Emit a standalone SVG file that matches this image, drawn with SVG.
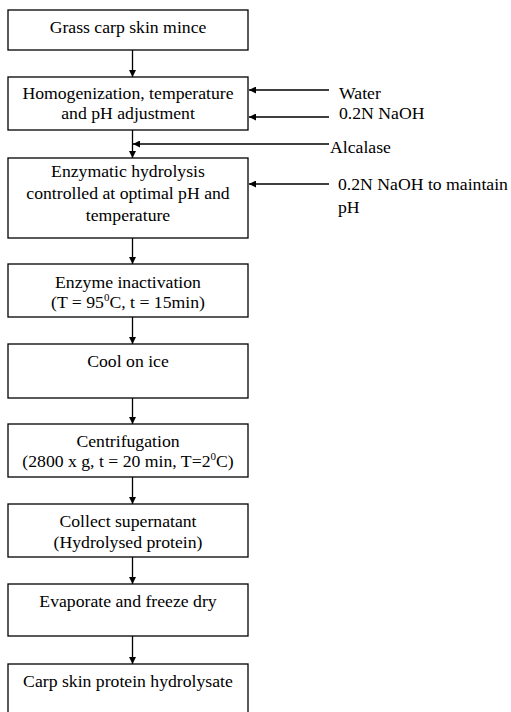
<svg xmlns="http://www.w3.org/2000/svg" width="511" height="712" viewBox="0 0 511 712">
<defs>
<marker id="ah" viewBox="0 0 10 10" refX="10" refY="5" markerWidth="7" markerHeight="7" markerUnits="userSpaceOnUse" orient="auto">
<path d="M0,0 L10,5 L0,10 Z" fill="#000"/>
</marker>
<style>
rect.box{fill:#fff;stroke:#000;stroke-width:1.3}
text{font-family:"Liberation Serif","Times New Roman","DejaVu Serif",serif;font-size:17.7px;fill:#000}
text.c{text-anchor:middle}
.conn line{stroke:#000;stroke-width:1.3;marker-end:url(#ah)}
.sup{font-size:11px}
</style>
</defs>
<rect width="511" height="712" fill="#fff"/>
<g id="n1"><rect class="box" x="8" y="10" width="240" height="40"/><text class="c" x="128" y="33">Grass carp skin mince</text></g>
<g id="n2"><rect class="box" x="8" y="77" width="240" height="53"/><text class="c" x="128" y="99">Homogenization, temperature</text><text class="c" x="128" y="119">and pH adjustment</text></g>
<g id="n3"><rect class="box" x="8" y="158" width="240" height="80"/><text class="c" x="128" y="177">Enzymatic hydrolysis</text><text class="c" x="128" y="199">controlled at optimal pH and</text><text class="c" x="128" y="221">temperature</text></g>
<g id="n4"><rect class="box" x="8" y="264" width="240" height="53"/><text class="c" x="128" y="288">Enzyme inactivation</text><text class="c" x="128" y="308">(T = 95<tspan class="sup" dy="-7">0</tspan><tspan dy="7">C, t = 15min)</tspan></text></g>
<g id="n5"><rect class="box" x="8" y="344" width="240" height="54"/><text class="c" x="128" y="367">Cool on ice</text></g>
<g id="n6"><rect class="box" x="8" y="424" width="240" height="53"/><text class="c" x="128" y="447">Centrifugation</text><text class="c" x="128" y="467">(2800 x g, t = 20 min, T=2<tspan class="sup" dy="-7">0</tspan><tspan dy="7">C)</tspan></text></g>
<g id="n7"><rect class="box" x="8" y="504" width="240" height="53"/><text class="c" x="128" y="527">Collect supernatant</text><text class="c" x="128" y="548">(Hydrolysed protein)</text></g>
<g id="n8"><rect class="box" x="8" y="584" width="240" height="52"/><text class="c" x="128" y="607">Evaporate and freeze dry</text></g>
<g id="n9"><rect class="box" x="8" y="664" width="240" height="60"/><text class="c" x="128" y="687">Carp skin protein hydrolysate</text></g>
<g id="inputs">
<text x="339" y="99">Water</text>
<text x="339" y="119">0.2N NaOH</text>
<text x="330" y="153">Alcalase</text>
<text x="338" y="190">0.2N NaOH to maintain</text>
<text x="338" y="213">pH</text>
</g>
<g class="conn" id="connectors">
<line x1="132.5" y1="50" x2="132.5" y2="77"/>
<line x1="132.5" y1="130" x2="132.5" y2="158"/>
<line x1="132.5" y1="238" x2="132.5" y2="264"/>
<line x1="132.5" y1="317" x2="132.5" y2="344"/>
<line x1="132.5" y1="398" x2="132.5" y2="424"/>
<line x1="132.5" y1="477" x2="132.5" y2="504"/>
<line x1="132.5" y1="557" x2="132.5" y2="584"/>
<line x1="132.5" y1="636" x2="132.5" y2="664"/>
<line x1="329" y1="90" x2="249" y2="90"/>
<line x1="329" y1="117" x2="249" y2="117"/>
<line x1="329" y1="144" x2="133" y2="144"/>
<line x1="329" y1="184" x2="249" y2="184"/>
</g>
</svg>
